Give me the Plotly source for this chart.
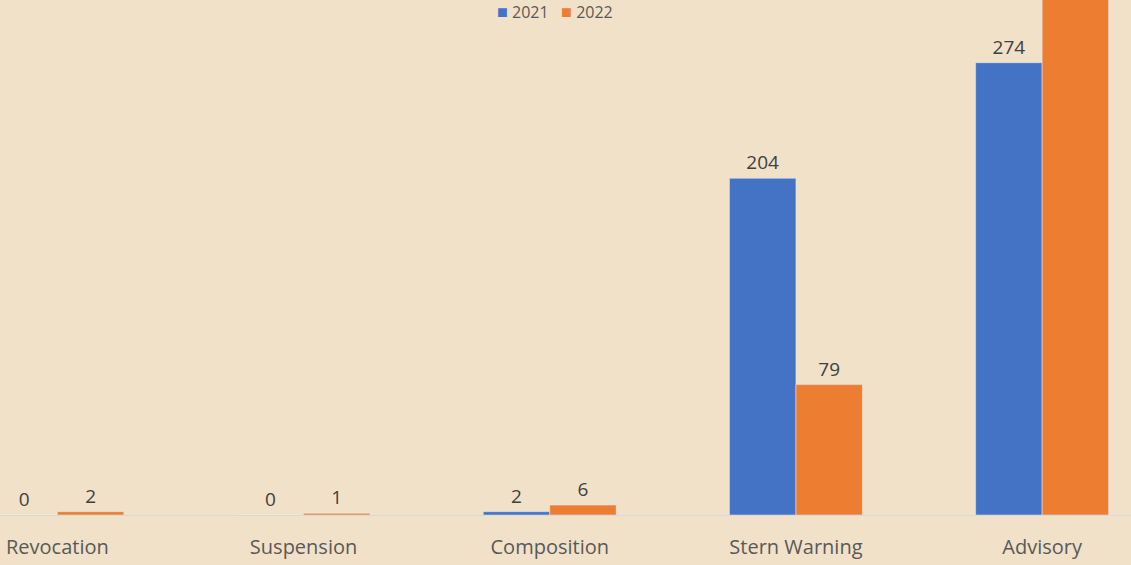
import plotly.graph_objects as go

categories = ["Revocation", "Suspension", "Composition", "Stern Warning", "Advisory"]
series_names = ["2021", "2022"]
values_2021 = [0, 0, 2, 204, 274]
values_2022 = [2, 1, 6, 79, 330]

BLUE = "#4472C4"
ORANGE = "#ED7D31"
BG = "#F1E1C8"
FONT = "Open Sans"

fig = go.Figure()
for name, vals, col in zip(series_names, [values_2021, values_2022], [BLUE, ORANGE]):
    fig.add_trace(go.Bar(
        x=categories, y=vals, name=name, marker_color=col,
        text=vals, textposition="outside", cliponaxis=True,
        textfont=dict(size=19, color="#404040", family=FONT),
        showlegend=False,
    ))

legend_text = "&nbsp;&nbsp;&nbsp;".join(
    f"<span style='color:{c};font-size:18px'>■</span> {n}"
    for n, c in zip(series_names, [BLUE, ORANGE])
)
fig.add_annotation(
    text=legend_text, xref="paper", yref="paper", x=0.491, y=1.0,
    xanchor="center", yanchor="top", yshift=3, showarrow=False,
    font=dict(size=16, color="#595959", family=FONT),
)

fig.update_layout(
    width=1131, height=565,
    margin=dict(l=0, r=0, t=0, b=50),
    paper_bgcolor=BG, plot_bgcolor=BG,
    barmode="group", bargap=0.46, bargroupgap=0,
    font=dict(family=FONT, color="#595959"),
    xaxis=dict(
        range=[-0.233, 4.361], showgrid=False, showline=True,
        linecolor="#D9D9D9", linewidth=1,
        ticks="outside", ticklen=14, tickcolor="rgba(0,0,0,0)",
        tickfont=dict(size=20, color="#595959", family=FONT),
    ),
    yaxis=dict(range=[0, 312], visible=False, showgrid=False, zeroline=False),
)

fig.write_html("out.html")
